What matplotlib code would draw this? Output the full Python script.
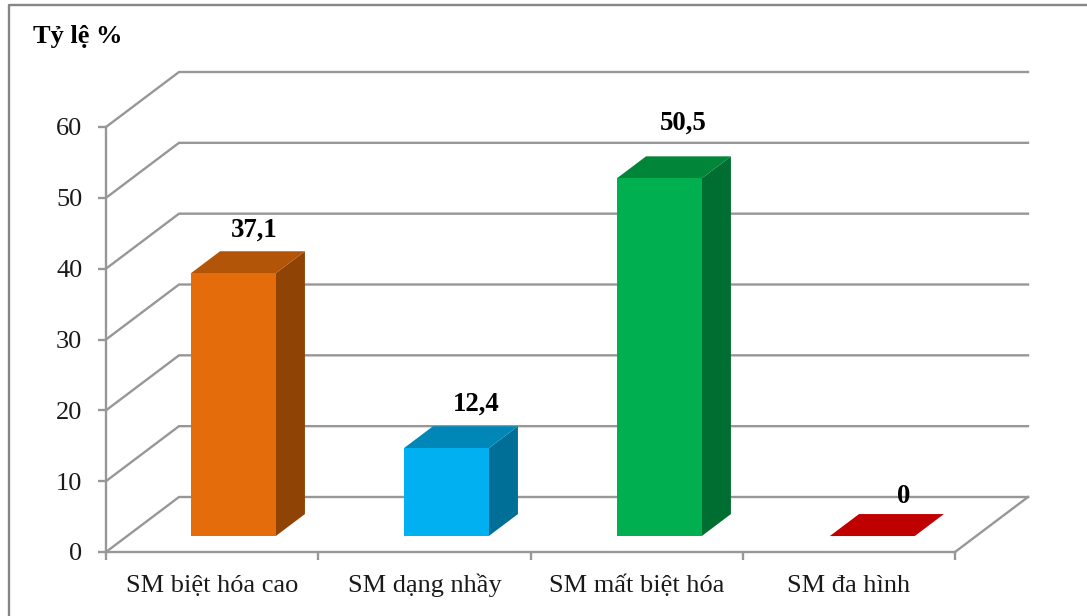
from matplotlib import pyplot as plt
from matplotlib.patches import Polygon
from matplotlib.lines import Line2D

categories = ["SM biệt hóa cao", "SM dạng nhầy", "SM mất biệt hóa", "SM đa hình"]
values = [37.1, 12.4, 50.5, 0]
value_labels = ["37,1", "12,4", "50,5", "0"]
y_ticks = [0, 10, 20, 30, 40, 50, 60]

front_colors = ["#E46C0A", "#00B0F0", "#00B050", "#C00000"]
top_colors = ["#B25508", "#0087B8", "#008539", "#C00000"]
side_colors = ["#8F4406", "#006F98", "#006E30", "#900000"]
# nudge of each value label: x in category units, y in pixels
label_shift = [-0.037, 0.008, -0.017, 0.022]
label_lift = [21, 22, 33, 18]

GRAY = "#979797"
W, H = 1087, 616
BAR_W = 0.4
BAR_PITCH = 1.0035
# how far the back wall sits from the front plane
DEPTH_X = 73 / 212.25
DEPTH_Y = 55 / (425 / 60)

plt.rcParams["font.family"] = ["Liberation Serif", "DejaVu Serif"]

fig = plt.figure(figsize=(W / 100, H / 100), dpi=100)
ax = fig.add_axes([106 / W, (H - 552) / H, 849 / W, 425 / H])
ax.set_xlim(0, 4)
ax.set_ylim(0, 60)


def project(x, y, d):
    # oblique projection, d=0 is the front plane and d=1 the back wall
    return (x + d * DEPTH_X, y + d * DEPTH_Y)


for s in ["top", "right"]:
    ax.spines[s].set_visible(False)
for s in ["left", "bottom"]:
    ax.spines[s].set_color(GRAY)
    ax.spines[s].set_linewidth(1.7)

ax.set_yticks(y_ticks)
ax.set_xticks(range(len(categories) + 1))
ax.set_xticklabels([])
ax.set_xticks([i + 0.5 for i in range(len(categories))], minor=True)
ax.set_xticklabels(categories, minor=True, fontsize=19, color="#1a1a1a", va="baseline")
ax.tick_params(axis="y", length=6, width=1.7, color=GRAY, labelsize=19, pad=11, labelcolor="#1a1a1a")
ax.tick_params(axis="x", which="major", length=6, width=1.7, color=GRAY)
ax.tick_params(axis="x", which="minor", length=0, pad=28.5)

# walls: each grid line runs back from the axis, then across
for t in y_ticks:
    p0 = project(0, t, 0)
    p1 = project(0, t, 1)
    p2 = project(4, t, 1)
    ax.plot([p0[0], p1[0], p2[0]], [p0[1], p1[1], p2[1]], color=GRAY, lw=1.7,
            clip_on=False, zorder=1, solid_joinstyle="miter")

# right edge of the floor
p0 = project(4, 0, 0)
p1 = project(4, 0, 1)
ax.plot([p0[0], p1[0]], [p0[1], p1[1]], color=GRAY, lw=1.7, clip_on=False, zorder=1)

d0, d1 = 0.29, 0.69
for i, v in enumerate(values):
    mid = 0.5 + i * BAR_PITCH
    x0 = mid - BAR_W / 2
    x1 = mid + BAR_W / 2
    top = [project(x0, v, d0), project(x1, v, d0), project(x1, v, d1), project(x0, v, d1)]
    side = [project(x1, 0, d0), project(x1, v, d0), project(x1, v, d1), project(x1, 0, d1)]
    front = [project(x0, 0, d0), project(x1, 0, d0), project(x1, v, d0), project(x0, v, d0)]
    for pts, c in [(side, side_colors[i]), (top, top_colors[i]), (front, front_colors[i])]:
        ax.add_patch(Polygon(pts, closed=True, facecolor=c, edgecolor="none",
                             clip_on=False, zorder=3))
    lx, ly = project(i + 0.5 + label_shift[i], v, d1)
    ax.annotate(value_labels[i], (lx, ly), xytext=(0, label_lift[i]), textcoords="offset pixels",
                ha="center", va="center", fontsize=19.3, fontweight="bold",
                color="black", annotation_clip=False, zorder=4)

fig.text(33 / W, 1 - 37 / H, "Tỷ lệ %", fontsize=19, fontweight="bold", color="black",
         ha="left", va="center")

# outer chart frame
fig.add_artist(Line2D([9 / W, 9 / W, 1], [0, 1 - 5 / H, 1 - 5 / H], color="#868686", lw=1.7))

fig.savefig("out.png", dpi=100)
